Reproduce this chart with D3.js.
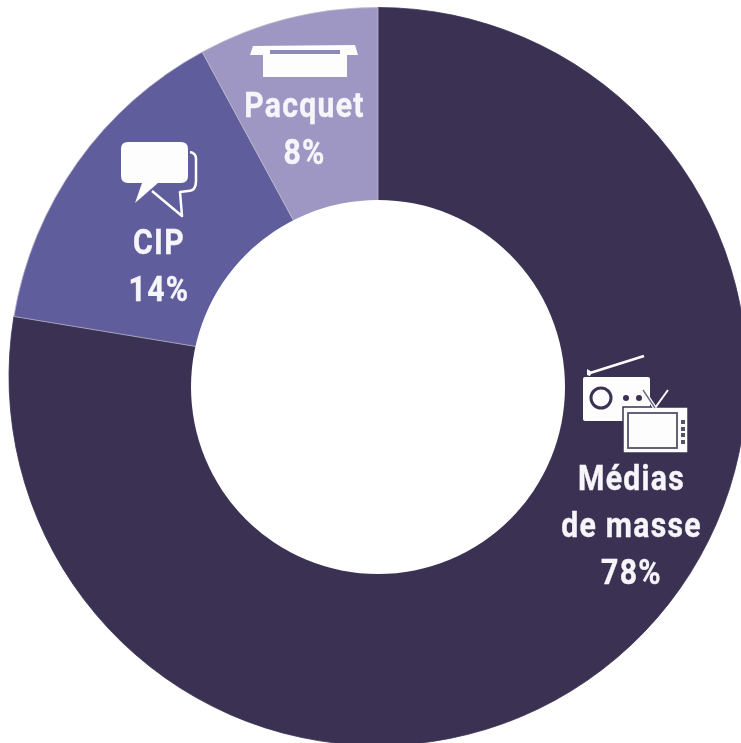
<!DOCTYPE html>
<html>
<head>
<meta charset="utf-8">
<title>Donut</title>
<script src="https://d3js.org/d3.v7.min.js"></script>
<style>
	html, body { margin: 0; padding: 0; background: #fff; overflow: hidden; }
	svg { display: block; filter: blur(0.5px); }
	.lbl { font-family: Roboto, sans-serif; font-weight: 700; font-size: 36px; letter-spacing: 1.5px; fill: #f6f5fa; stroke: #f6f5fa; stroke-width: 0.4; text-anchor: middle; }
</style>
</head>
<body>
<div id="chart"></div>
<script>
// data
var categories = ["Médias de masse", "CIP", "Pacquet"];
// slice sizes as measured on the picture, the printed labels are rounded
var shares = [77.6, 14.5, 7.9];
var colors = ["#3a3153", "#5f5d9c", "#9f97c3"];
var labelLines = [["Médias", "de masse", "78%"], ["CIP", "14%"], ["Pacquet", "8%"]];

var w = 741, h = 743;
var cx = 378, cy = 376.5, outer = 369;
// the hole is not quite concentric
var holeY = 387, holeR = 187;
// first baseline of each label block
var labelPos = [[631.5, 489.5], [159, 253.5], [304.5, 116.5]];
var lineGap = 47;

var svg = d3.select("#chart").append("svg").attr("width", w).attr("height", h);

var pie = d3.pie().sort(null).value(function(d) { return d; });
var arc = d3.arc().innerRadius(0).outerRadius(outer);

svg.append("g")
	.attr("transform", "translate(" + cx + "," + cy + ")")
	.selectAll("path")
	.data(pie(shares))
	.enter().append("path")
	.attr("d", arc)
	.attr("fill", function(d, i) { return colors[i]; })
	.attr("stroke", function(d, i) { return i == 0 ? colors[0] : "#b9b6c6"; })
	.attr("stroke-width", 0.8);

svg.append("circle").attr("cx", cx).attr("cy", holeY).attr("r", holeR).attr("fill", "#fff");

labelLines.forEach(function(lines, i) {
	var g = svg.append("g").attr("transform", "translate(" + labelPos[i][0] + "," + labelPos[i][1] + ")");
	lines.forEach(function(t, j) {
		g.append("text").attr("class", "lbl")
			.attr("transform", "translate(0," + (j * lineGap) + ") scale(0.84,1)")
			.text(t);
	});
});

// icons
var white = "#fdfdfd";

// box
var box = svg.append("g");
box.append("path").attr("fill", white)
	.attr("d", "M253 46 L355 45 L358 55 L347 55 L347 77 L263 77 L263 55 L250 55 Z");
box.append("rect").attr("x", 270).attr("y", 50).attr("width", 70).attr("height", 4).attr("fill", "#8f88ba");

// speech bubbles
var bub = svg.append("g");
bub.append("path").attr("fill", "none").attr("stroke", white).attr("stroke-width", 2.5)
	.attr("stroke-linejoin", "round")
	.attr("d", "M190 152 Q196 153 196 159 L196 181 Q196 191 188 191 L180 192 L182 216 L152 191");
bub.append("path").attr("fill", white)
	.attr("d", "M128 142 L181 142 Q188 142 188 149 L188 176 Q188 183 181 183 L158 183 L135 203 L142 183 L128 183 Q121 183 121 176 L121 149 Q121 142 128 142 Z");

// radio
var radio = svg.append("g");
radio.append("path").attr("stroke", white).attr("stroke-width", 2.5).attr("d", "M590 373 L644 356");
radio.append("path").attr("fill", white).attr("d", "M587 369 L592 372 L590 376 L587 375 Z");
radio.append("rect").attr("x", 583).attr("y", 377).attr("width", 67).attr("height", 44).attr("rx", 2).attr("fill", white);
radio.append("circle").attr("cx", 601).attr("cy", 398).attr("r", 10).attr("fill", "none").attr("stroke", "#3a3153").attr("stroke-width", 3);
radio.append("circle").attr("cx", 626).attr("cy", 398).attr("r", 3).attr("fill", "#3a3153");
radio.append("circle").attr("cx", 639).attr("cy", 398).attr("r", 3).attr("fill", "#3a3153");

// tv
var tv = svg.append("g");
tv.append("rect").attr("x", 623).attr("y", 407).attr("width", 65).attr("height", 46).attr("fill", white).attr("stroke", "#3a3153").attr("stroke-width", 1.5);
tv.append("rect").attr("x", 628).attr("y", 413).attr("width", 49).attr("height", 35).attr("fill", white).attr("stroke", "#55506c").attr("stroke-width", 1.8);
tv.append("path").attr("stroke", white).attr("stroke-width", 2).attr("fill", "none").attr("d", "M655 408 L668 390");
tv.append("path").attr("stroke", white).attr("stroke-width", 4).attr("fill", "none").attr("d", "M643 390 L655 408");
tv.append("path").attr("stroke", "#6f6a85").attr("stroke-width", 1.4).attr("fill", "none").attr("d", "M643 390 L655 408");
[420, 427, 433, 440].forEach(function(y) {
	tv.append("rect").attr("x", 681).attr("y", y).attr("width", 4).attr("height", 4).attr("fill", "#55506c");
});
</script>
</body>
</html>
